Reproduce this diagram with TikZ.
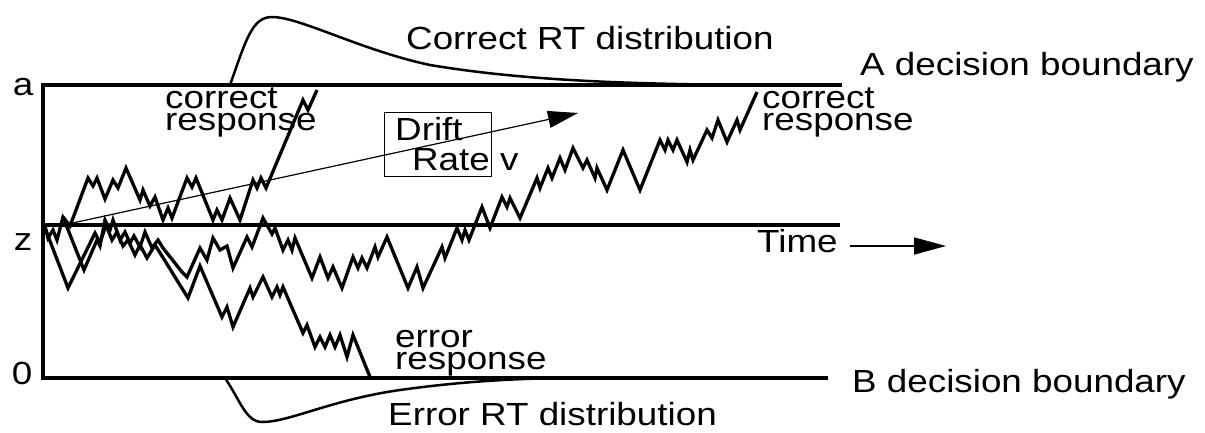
\documentclass[tikz,border=0pt]{standalone}
\usepackage{fontspec}
\setmainfont{Liberation Sans}[FakeStretch=1.15]
\usetikzlibrary{arrows.meta}
\begin{document}
\begin{tikzpicture}[x=1pt,y=-1pt,
  bound/.style={line width=4.5pt},
  midline/.style={line width=3.5pt},
  walk/.style={line width=3.3pt},
  dist/.style={line width=2.5pt},
  lbl/.style={inner sep=0pt, font=\fontsize{32}{22}\selectfont},
  thinarrow/.style={line width=1.2pt,-{Triangle[length=30pt,width=17pt]}},
  ]
\useasboundingbox (0,0) rectangle (1205,432);
% boundaries
\coordinate (aR) at (842,85);
\coordinate (aL) at (43,85);
\coordinate (bL) at (43,378);
\coordinate (bR) at (828,378);
\coordinate (zL) at (42,225);
\coordinate (zR) at (840,225);
\draw[bound] (aR) -- (aL) -- (bL) -- (bR);
\draw[midline] (zL) -- (zR);
% labels at axis
\node[lbl, anchor=base] (la) at (23,95) {a};
\node[lbl, anchor=base] (lz) at (23,250) {z};
\node[lbl, anchor=base] (l0) at (22,384) {0};
\node[lbl, anchor=base west] (Abound) at (860,75) {A decision boundary};
\node[lbl, anchor=base west] (Bbound) at (852,392) {B decision boundary};
\node[lbl, anchor=base west] (corrRT) at (406,49) {Correct RT distribution};
\node[lbl, anchor=base west] (errRT) at (388,425) {Error RT distribution};
% response labels
\node[lbl, anchor=base west] (crL) at (165,108) {\vtop{\hbox{correct}\hbox{response}}};
\node[lbl, anchor=base west] (crR) at (762,108) {\vtop{\hbox{correct}\hbox{response}}};
\node[lbl, anchor=base west] (er) at (395,347) {\vtop{\hbox{error}\hbox{response}}};
% RT distributions
\draw[dist] (230,85) .. controls (246,40) and (252,17) .. (272,17)
  .. controls (300,17) and (360,50) .. (430,65)
  .. controls (520,80) and (620,84) .. (750,85);
\draw[dist] (225,378) .. controls (240,400) and (246,422) .. (262,422)
  .. controls (290,422) and (330,400) .. (400,390)
  .. controls (450,383) and (500,379) .. (560,378);
% drift rate
\node[draw, line width=1.2pt, inner sep=0pt, minimum width=107pt, minimum height=64pt, anchor=north west] (driftbox) at (384,112) {};
\node[lbl, anchor=base west] (drift) at (395,140) {Drift};
\node[lbl, anchor=base east] (rate) at (490,170) {Rate};
\node[lbl, anchor=base west] (v) at (500,170) {v};
\coordinate (dS) at (68,224);
\coordinate (dE) at (578,113);
\draw[thinarrow] (dS) -- (dE);
% time
\node[lbl, anchor=base west] (time) at (757,252) {Time};
\coordinate (tS) at (850,246);
\coordinate (tE) at (946,246);
\draw[line width=1.6pt,-{Triangle[length=32pt,width=17pt]}] (tS) -- (tE);
% random walks
\draw[walk] (45,226) -- (48,238) -- (53,230) -- (57,240) -- (63,217) -- (70,226) -- (88,178) -- (93,186) -- (97,178) -- (105,199) -- (113,180) -- (118,188) -- (126,168) -- (140,200) -- (143,190) -- (150,206) -- (155,197) -- (163,220) -- (168,208) -- (172,218) -- (187,178) -- (192,187) -- (196,178) -- (213,220) -- (217,210) -- (222,220) -- (230,198) -- (240,220) -- (253,180) -- (257,188) -- (261,178) -- (266,188) -- (303,100) -- (308,110) -- (317,90);
\draw[walk] (63,217) -- (84,270) -- (97,240) -- (100,246) -- (105,220) -- (110,230) -- (113,220) -- (120,240) -- (125,232) -- (130,243) -- (134,236) -- (140,247) -- (145,232) -- (152,248) -- (158,240) -- (163,248) -- (182,272) -- (187,277) -- (200,248) -- (207,260) -- (213,238) -- (220,250) -- (227,246) -- (233,268) -- (247,237) -- (252,247) -- (263,218) -- (272,234) -- (275,228) -- (283,250) -- (288,240) -- (292,250) -- (295,238) -- (312,278) -- (320,257) -- (328,278) -- (333,267) -- (342,288) -- (353,257) -- (358,268) -- (362,258) -- (367,268) -- (375,247) -- (378,257) -- (387,237) -- (408,288) -- (417,267) -- (423,288) -- (442,247) -- (445,258) -- (457,228) -- (462,240) -- (465,230) -- (469,240) -- (482,207) -- (490,228) -- (502,197) -- (507,207) -- (510,198) -- (520,218) -- (537,178) -- (540,188) -- (548,168) -- (552,178) -- (560,158) -- (565,170) -- (573,148) -- (583,168) -- (587,160) -- (595,178) -- (597,168) -- (607,190) -- (623,150) -- (640,190) -- (660,140) -- (665,150) -- (668,140) -- (673,150) -- (677,140) -- (687,162) -- (690,150) -- (693,160) -- (707,130) -- (712,138) -- (718,120) -- (727,142) -- (737,120) -- (740,130) -- (757,92);
\draw[walk] (45,228) -- (68,288) -- (95,233) -- (100,243) -- (106,225) -- (112,240) -- (117,232) -- (123,246) -- (128,240) -- (135,255) -- (140,245) -- (147,258) -- (155,245) -- (162,256) -- (188,298) -- (200,266) -- (222,317) -- (227,307) -- (233,327) -- (250,288) -- (253,297) -- (263,277) -- (272,297) -- (277,287) -- (280,295) -- (283,287) -- (303,333) -- (307,325) -- (315,347) -- (320,337) -- (325,347) -- (330,335) -- (335,347) -- (340,335) -- (347,357) -- (353,335) -- (370,377);
\end{tikzpicture}
\end{document}
